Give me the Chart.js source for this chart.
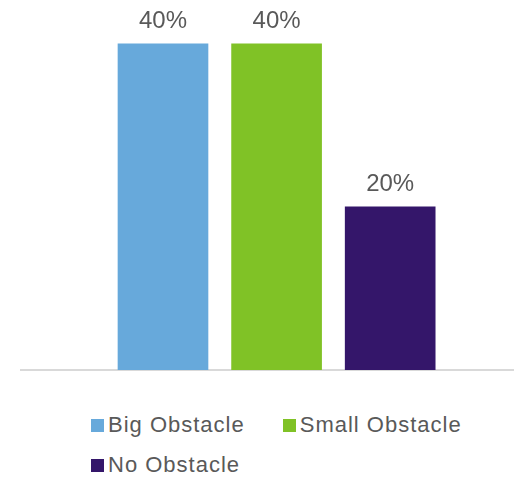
<!DOCTYPE html>
<html>
<head>
<meta charset="utf-8">
<title>Obstacles</title>
<script src="https://cdn.jsdelivr.net/npm/chart.js@4.4.0/dist/chart.umd.min.js"></script>
<style>
  html, body { margin: 0; padding: 0; background: #fff; }
  body { width: 514px; height: 478px; position: relative; overflow: hidden; font-family: "Liberation Sans", Arial, sans-serif; }
  #wrap { position: absolute; left: 0; top: 0; width: 514px; height: 372px; }
  #legend { position: absolute; left: 91px; top: 405px; width: 415px; display: flex; flex-wrap: wrap; column-gap: 38px; font-size: 22px; letter-spacing: 1px; color: #595959; line-height: 40px; }
  .item { display: flex; align-items: center; }
  .box { width: 13px; height: 13px; margin-right: 4px; }
</style>
</head>
<body>
<div id="wrap"><canvas id="chart"></canvas></div>
<div id="legend"></div>
<script>
// datos del grafico
const categories = ['Big Obstacle', 'Small Obstacle', 'No Obstacle'];
const shares = [40, 40, 20];
const colors = ['#67A9DB', '#80C226', '#34166A'];

// etiquetas encima de cada barra
const barLabels = {
  id: 'barLabels',
  afterDatasetsDraw(chart) {
    const ctx = chart.ctx;
    ctx.save();
    ctx.font = '24px "Liberation Sans", Arial, sans-serif';
    ctx.fillStyle = '#595959';
    ctx.textAlign = 'center';
    ctx.textBaseline = 'alphabetic';
    chart.data.datasets.forEach((ds, i) => {
      chart.getDatasetMeta(i).data.forEach((bar, j) => {
        ctx.fillText(ds.data[j].y + '%', bar.x, bar.y - 16);
      });
    });
    ctx.restore();
  }
};

// leyenda en HTML
const htmlLegend = {
  id: 'htmlLegend',
  afterUpdate(chart) {
    const el = document.getElementById('legend');
    el.innerHTML = '';
    chart.data.datasets.forEach(ds => {
      const item = document.createElement('div');
      item.className = 'item';
      const box = document.createElement('span');
      box.className = 'box';
      box.style.background = ds.backgroundColor;
      const text = document.createElement('span');
      text.textContent = ds.label;
      item.appendChild(box);
      item.appendChild(text);
      el.appendChild(item);
    });
  }
};

new Chart(document.getElementById('chart'), {
  type: 'bar',
  data: {
    datasets: categories.map((name, i) => ({
      label: name,
      data: [{ x: i + 1, y: shares[i] }],
      backgroundColor: colors[i],
      borderWidth: 0,
      barThickness: 90,
      grouped: false
    }))
  },
  options: {
    responsive: true,
    maintainAspectRatio: false,
    animation: false,
    layout: { padding: { left: 21, right: 0, top: 3, bottom: 2 } },
    scales: {
      x: {
        type: 'linear',
        min: -0.25,
        max: 4.09,
        offset: false,
        grid: { display: false, drawTicks: false },
        ticks: { display: false, stepSize: 1, includeBounds: false },
        border: { display: true, color: '#D9D9D9', width: 2 }
      },
      y: {
        min: 0,
        max: 45,
        display: false
      }
    },
    plugins: {
      legend: { display: false },
      tooltip: { enabled: false }
    }
  },
  plugins: [barLabels, htmlLegend]
});
</script>
</body>
</html>
